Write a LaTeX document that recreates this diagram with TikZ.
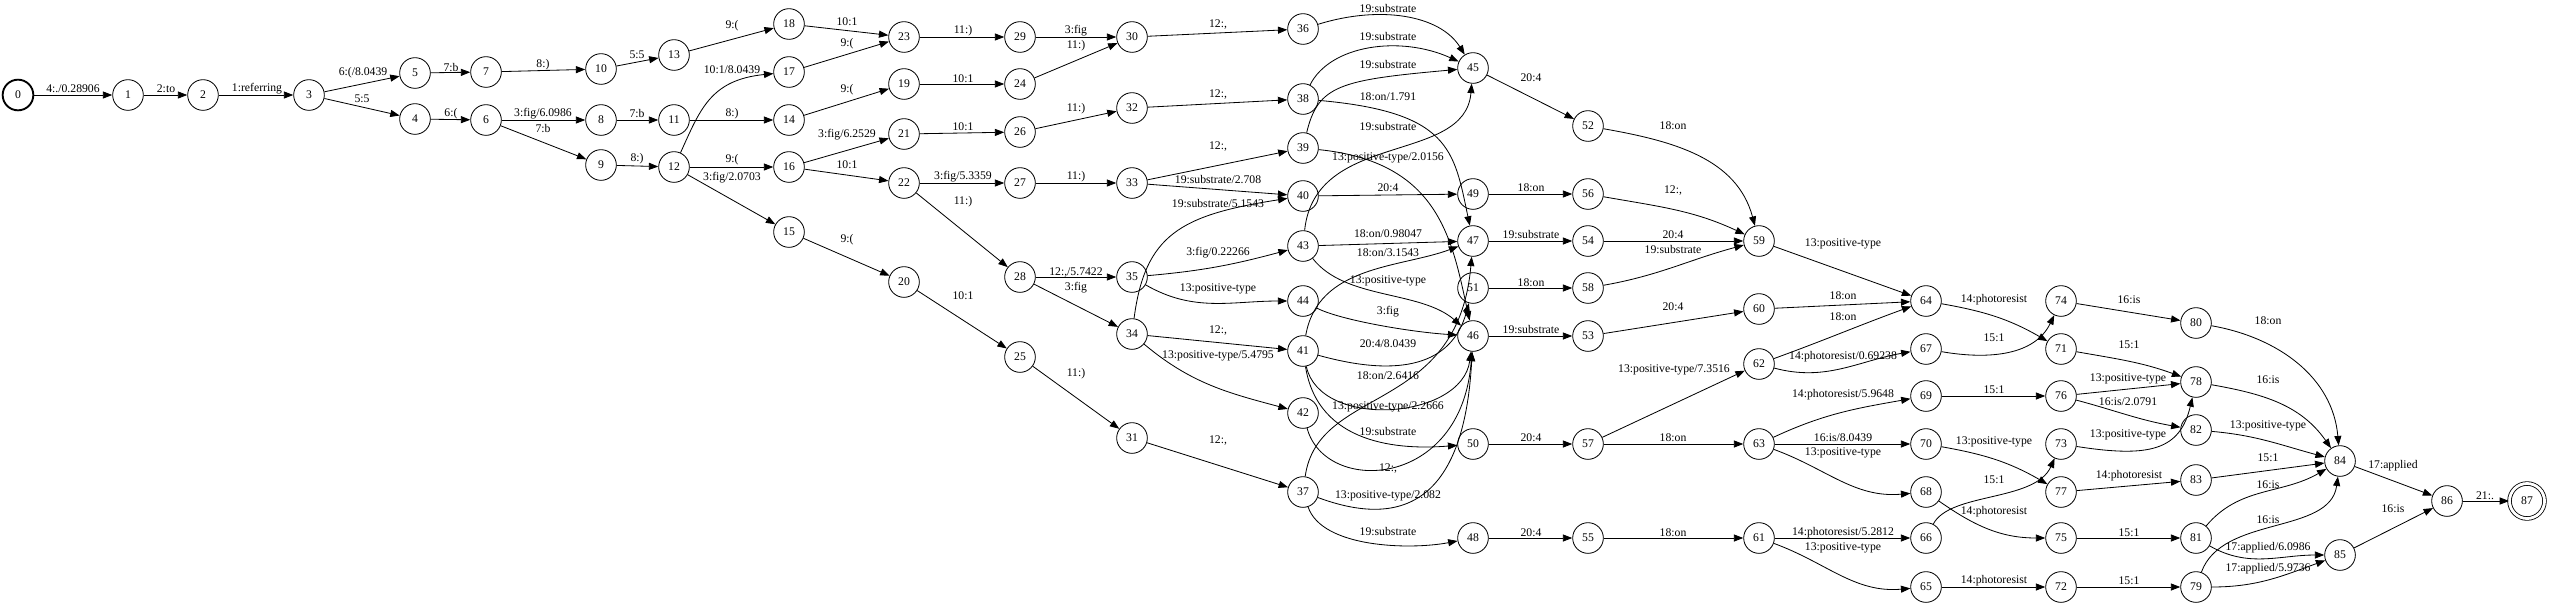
\documentclass[tikz,border=0pt]{standalone}
\usepackage{fontspec}
\setmainfont{Liberation Serif}
\usetikzlibrary{arrows.meta}
\tikzset{
  st/.style={draw,circle,minimum size=0.92cm,inner sep=0pt,line width=0.7pt,font=\normalsize},
  stinit/.style={st,line width=1.6pt},
  stfinal/.style={st,double,double distance=2.4pt,minimum size=1.05cm},
  tr/.style={-{Triangle[length=8pt,width=6pt]},line width=0.7pt},
  lbl/.style={font=\normalsize,inner sep=0pt},
}
\begin{document}
\begin{tikzpicture}[x=0.03cm,y=-0.03cm]
  \useasboundingbox (0,0) rectangle (2550,606);
  \node[stinit] (s0) at (18,95) {0};
  \node[st] (s1) at (128,95) {1};
  \node[st] (s2) at (203,95) {2};
  \node[st] (s3) at (309,95) {3};
  \node[st] (s5) at (415,73) {5};
  \node[st] (s4) at (415,119) {4};
  \node[st] (s7) at (486,72) {7};
  \node[st] (s6) at (486,120) {6};
  \node[st] (s10) at (601,69) {10};
  \node[st] (s8) at (601,120) {8};
  \node[st] (s9) at (601,165) {9};
  \node[st] (s13) at (674,55) {13};
  \node[st] (s11) at (674,120) {11};
  \node[st] (s12) at (674,167) {12};
  \node[st] (s18) at (789,24) {18};
  \node[st] (s17) at (789,72) {17};
  \node[st] (s14) at (789,120) {14};
  \node[st] (s16) at (789,167) {16};
  \node[st] (s15) at (789,232) {15};
  \node[st] (s23) at (904,37) {23};
  \node[st] (s19) at (904,84) {19};
  \node[st] (s21) at (904,134) {21};
  \node[st] (s22) at (904,183) {22};
  \node[st] (s20) at (904,282) {20};
  \node[st] (s29) at (1020,37) {29};
  \node[st] (s24) at (1020,84) {24};
  \node[st] (s26) at (1020,132) {26};
  \node[st] (s27) at (1020,183) {27};
  \node[st] (s28) at (1020,277) {28};
  \node[st] (s25) at (1020,357) {25};
  \node[st] (s30) at (1132,37) {30};
  \node[st] (s32) at (1132,108) {32};
  \node[st] (s33) at (1132,183) {33};
  \node[st] (s35) at (1132,277) {35};
  \node[st] (s34) at (1132,334) {34};
  \node[st] (s31) at (1132,438) {31};
  \node[st] (s36) at (1303,29) {36};
  \node[st] (s38) at (1303,99) {38};
  \node[st] (s39) at (1303,148) {39};
  \node[st] (s40) at (1303,196) {40};
  \node[st] (s43) at (1303,246) {43};
  \node[st] (s44) at (1303,301) {44};
  \node[st] (s41) at (1303,351) {41};
  \node[st] (s42) at (1303,413) {42};
  \node[st] (s37) at (1303,492) {37};
  \node[st] (s45) at (1473,68) {45};
  \node[st] (s49) at (1473,194) {49};
  \node[st] (s47) at (1473,241) {47};
  \node[st] (s51) at (1473,288) {51};
  \node[st] (s46) at (1473,336) {46};
  \node[st] (s50) at (1473,444) {50};
  \node[st] (s48) at (1473,538) {48};
  \node[st] (s52) at (1588,126) {52};
  \node[st] (s56) at (1588,194) {56};
  \node[st] (s54) at (1588,241) {54};
  \node[st] (s58) at (1588,288) {58};
  \node[st] (s53) at (1588,336) {53};
  \node[st] (s57) at (1588,444) {57};
  \node[st] (s55) at (1588,538) {55};
  \node[st] (s59) at (1759,241) {59};
  \node[st] (s60) at (1759,309) {60};
  \node[st] (s62) at (1759,364) {62};
  \node[st] (s63) at (1759,444) {63};
  \node[st] (s61) at (1759,538) {61};
  \node[st] (s64) at (1926,301) {64};
  \node[st] (s67) at (1926,349) {67};
  \node[st] (s69) at (1926,396) {69};
  \node[st] (s70) at (1926,444) {70};
  \node[st] (s68) at (1926,492) {68};
  \node[st] (s66) at (1926,538) {66};
  \node[st] (s65) at (1926,587) {65};
  \node[st] (s74) at (2061,301) {74};
  \node[st] (s71) at (2061,349) {71};
  \node[st] (s76) at (2061,396) {76};
  \node[st] (s73) at (2061,444) {73};
  \node[st] (s77) at (2061,492) {77};
  \node[st] (s75) at (2061,538) {75};
  \node[st] (s72) at (2061,587) {72};
  \node[st] (s80) at (2196,323) {80};
  \node[st] (s78) at (2196,382) {78};
  \node[st] (s82) at (2196,430) {82};
  \node[st] (s83) at (2196,480) {83};
  \node[st] (s81) at (2196,538) {81};
  \node[st] (s79) at (2196,587) {79};
  \node[st] (s84) at (2340,461) {84};
  \node[st] (s85) at (2340,555) {85};
  \node[st] (s86) at (2447,501) {86};
  \node[stfinal] (s87) at (2527,501) {87};
  \draw[tr] (s0) -- (s1) node[lbl] (l0-1) at (73,89) {4:./0.28906};
  \draw[tr] (s1) -- (s2) node[lbl] (l1-2) at (166,89) {2:to};
  \draw[tr] (s2) -- (s3) node[lbl] (l2-3) at (257,89) {1:referring};
  \draw[tr] (s3) -- (s5) node[lbl] (l3-5) at (363,73) {6:(/8.0439};
  \draw[tr] (s3) -- (s4) node[lbl] (l3-4) at (362,99) {5:5};
  \draw[tr] (s5) -- (s7) node[lbl] (l5-7) at (451,68) {7:b};
  \draw[tr] (s4) -- (s6) node[lbl] (l4-6) at (451,114) {6:(};
  \draw[tr] (s7) -- (s10) node[lbl] (l7-10) at (543,65) {8:)};
  \draw[tr] (s10) -- (s13) node[lbl] (l10-13) at (637,55) {5:5};
  \draw[tr] (s13) -- (s18) node[lbl] (l13-18) at (732,26) {9:(};
  \draw[tr] (s6) -- (s8) node[lbl] (l6-8) at (543,114) {3:fig/6.0986};
  \draw[tr] (s6) -- (s9) node[lbl] (l6-9) at (543,129) {7:b};
  \draw[tr] (s8) -- (s11) node[lbl] (l8-11) at (637,114) {7:b};
  \draw[tr] (s11) -- (s14) node[lbl] (l11-14) at (732,114) {8:)};
  \draw[tr] (s9) -- (s12) node[lbl] (l9-12) at (637,159) {8:)};
  \draw[tr] (s12) .. controls (700,110) and (710,80) .. (s17) node[lbl] (l12-17) at (732,70) {10:1/8.0439};
  \draw[tr] (s12) -- (s16) node[lbl] (l12-16) at (732,160) {9:(};
  \draw[tr] (s12) -- (s15) node[lbl] (l12-15) at (732,178) {3:fig/2.0703};
  \draw[tr] (s18) -- (s23) node[lbl] (l18-23) at (847,22) {10:1};
  \draw[tr] (s17) -- (s23) node[lbl] (l17-23) at (847,44) {9:(};
  \draw[tr] (s14) -- (s19) node[lbl] (l14-19) at (847,90) {9:(};
  \draw[tr] (s16) -- (s21) node[lbl] (l16-21) at (847,135) {3:fig/6.2529};
  \draw[tr] (s16) -- (s22) node[lbl] (l16-22) at (847,165) {10:1};
  \draw[tr] (s15) -- (s20) node[lbl] (l15-20) at (847,240) {9:(};
  \draw[tr] (s23) -- (s29) node[lbl] (l23-29) at (963,31) {11:)};
  \draw[tr] (s19) -- (s24) node[lbl] (l19-24) at (963,79) {10:1};
  \draw[tr] (s21) -- (s26) node[lbl] (l21-26) at (963,127) {10:1};
  \draw[tr] (s22) -- (s27) node[lbl] (l22-27) at (963,177) {3:fig/5.3359};
  \draw[tr] (s22) -- (s28) node[lbl] (l22-28) at (963,202) {11:)};
  \draw[tr] (s20) -- (s25) node[lbl] (l20-25) at (963,296) {10:1};
  \draw[tr] (s29) -- (s30) node[lbl] (l29-30) at (1076,31) {3:fig};
  \draw[tr] (s24) -- (s30) node[lbl] (l24-30) at (1076,46) {11:)};
  \draw[tr] (s26) -- (s32) node[lbl] (l26-32) at (1076,109) {11:)};
  \draw[tr] (s27) -- (s33) node[lbl] (l27-33) at (1076,177) {11:)};
  \draw[tr] (s28) -- (s35) node[lbl] (l28-35) at (1076,273) {12:,/5.7422};
  \draw[tr] (s28) -- (s34) node[lbl] (l28-34) at (1076,288) {3:fig};
  \draw[tr] (s25) -- (s31) node[lbl] (l25-31) at (1076,374) {11:)};
  \draw[tr] (s30) -- (s36) node[lbl] (l30-36) at (1218,25) {12:,};
  \draw[tr] (s32) -- (s38) node[lbl] (l32-38) at (1218,95) {12:,};
  \draw[tr] (s33) -- (s39) node[lbl] (l33-39) at (1218,147) {12:,};
  \draw[tr] (s33) -- (s40) node[lbl] (l33-40) at (1218,180) {19:substrate/2.708};
  \draw[tr] (s34) .. controls (1145,235) and (1180,215) .. (s40) node[lbl] (l34-40) at (1218,204) {19:substrate/5.1543};
  \draw[tr] (s35) to[out=5,in=195] (s43) node[lbl] (l35-43) at (1218,253) {3:fig/0.22266};
  \draw[tr] (s35) to[out=-30,in=180] (s44) node[lbl] (l35-44) at (1218,289) {13:positive-type};
  \draw[tr] (s34) -- (s41) node[lbl] (l34-41) at (1218,331) {12:,};
  \draw[tr] (s34) to[out=-40,in=165] (s42) node[lbl] (l34-42) at (1218,356) {13:positive-type/5.4795};
  \draw[tr] (s31) -- (s37) node[lbl] (l31-37) at (1218,441) {12:,};
  \draw[tr] (s36) .. controls (1380,5) and (1440,15) .. (s45) node[lbl] (l36-45) at (1388,9) {19:substrate};
  \draw[tr] (s38) .. controls (1330,45) and (1400,35) .. (s45) node[lbl] (l38-45) at (1388,37) {19:substrate};
  \draw[tr] (s39) .. controls (1318,85) and (1340,80) .. (s45) node[lbl] (l39-45) at (1388,65) {19:substrate};
  \draw[tr] (s38) .. controls (1450,112) and (1454,150) .. (s47) node[lbl] (l38-47) at (1388,97) {18:on/1.791};
  \draw[tr] (s43) .. controls (1315,130) and (1465,165) .. (s45) node[lbl] (l43-45) at (1388,127) {19:substrate};
  \draw[tr] (s39) .. controls (1440,162) and (1452,240) .. (s46) node[lbl] (l39-46) at (1388,158) {13:positive-type/2.0156};
  \draw[tr] (s40) -- (s49) node[lbl] (l40-49) at (1388,188) {20:4};
  \draw[tr] (s43) -- (s47) node[lbl] (l43-47) at (1388,234) {18:on/0.98047};
  \draw[tr] (s41) .. controls (1318,265) and (1400,268) .. (s47) node[lbl] (l41-47) at (1388,253) {18:on/3.1543};
  \draw[tr] (s43) .. controls (1345,300) and (1420,290) .. (s46) node[lbl] (l43-46) at (1388,281) {13:positive-type};
  \draw[tr] (s44) .. controls (1340,320) and (1410,332) .. (s46) node[lbl] (l44-46) at (1388,312) {3:fig};
  \draw[tr] (s41) .. controls (1400,378) and (1452,365) .. (s51) node[lbl] (l41-51) at (1388,344) {20:4/8.0439};
  \draw[tr] (s37) .. controls (1318,385) and (1458,415) .. (s47) node[lbl] (l37-47) at (1388,376) {18:on/2.6416};
  \draw[tr] (s41) .. controls (1320,430) and (1462,420) .. (s46) node[lbl] (l41-46) at (1388,407) {13:positive-type/2.2666};
  \draw[tr] (s41) .. controls (1318,445) and (1400,450) .. (s50) node[lbl] (l41-50) at (1388,432) {19:substrate};
  \draw[tr] (s42) .. controls (1325,495) and (1462,490) .. (s46) node[lbl] (l42-46) at (1388,469) {12:,};
  \draw[tr] (s37) .. controls (1400,528) and (1464,505) .. (s46) node[lbl] (l37-46) at (1388,496) {13:positive-type/2.082};
  \draw[tr] (s37) .. controls (1322,548) and (1410,550) .. (s48) node[lbl] (l37-48) at (1388,532) {19:substrate};
  \draw[tr] (s45) -- (s52) node[lbl] (l45-52) at (1531,78) {20:4};
  \draw[tr] (s49) -- (s56) node[lbl] (l49-56) at (1531,188) {18:on};
  \draw[tr] (s47) -- (s54) node[lbl] (l47-54) at (1531,235) {19:substrate};
  \draw[tr] (s51) -- (s58) node[lbl] (l51-58) at (1531,283) {18:on};
  \draw[tr] (s46) -- (s53) node[lbl] (l46-53) at (1531,330) {19:substrate};
  \draw[tr] (s50) -- (s57) node[lbl] (l50-57) at (1531,438) {20:4};
  \draw[tr] (s48) -- (s55) node[lbl] (l48-55) at (1531,533) {20:4};
  \draw[tr] (s52) to[out=-10,in=105] (s59) node[lbl] (l52-59) at (1673,126) {18:on};
  \draw[tr] (s56) to[out=-10,in=155] (s59) node[lbl] (l56-59) at (1673,191) {12:,};
  \draw[tr] (s54) -- (s59) node[lbl] (l54-59) at (1673,235) {20:4};
  \draw[tr] (s58) to[out=10,in=195] (s59) node[lbl] (l58-59) at (1673,250) {19:substrate};
  \draw[tr] (s53) -- (s60) node[lbl] (l53-60) at (1673,307) {20:4};
  \draw[tr] (s57) -- (s62) node[lbl] (l57-62) at (1674,370) {13:positive-type/7.3516};
  \draw[tr] (s57) -- (s63) node[lbl] (l57-63) at (1673,438) {18:on};
  \draw[tr] (s55) -- (s61) node[lbl] (l55-61) at (1673,533) {18:on};
  \draw[tr] (s59) -- (s64) node[lbl] (l59-64) at (1843,244) {13:positive-type};
  \draw[tr] (s60) -- (s64) node[lbl] (l60-64) at (1843,296) {18:on};
  \draw[tr] (s62) to[out=20,in=200] (s64) node[lbl] (l62-64) at (1843,317) {18:on};
  \draw[tr] (s62) to[out=-15,in=190] (s67) node[lbl] (l62-67) at (1843,357) {14:photoresist/0.69238};
  \draw[tr] (s63) to[out=25,in=190] (s69) node[lbl] (l63-69) at (1843,395) {14:photoresist/5.9648};
  \draw[tr] (s63) -- (s70) node[lbl] (l63-70) at (1843,438) {16:is/8.0439};
  \draw[tr] (s63) to[out=-20,in=185] (s68) node[lbl] (l63-68) at (1843,453) {13:positive-type};
  \draw[tr] (s61) -- (s66) node[lbl] (l61-66) at (1843,533) {14:photoresist/5.2812};
  \draw[tr] (s61) to[out=-20,in=185] (s65) node[lbl] (l61-65) at (1843,548) {13:positive-type};
  \draw[tr] (s64) to[out=-10,in=150] (s71) node[lbl] (l64-71) at (1994,300) {14:photoresist};
  \draw[tr] (s67) .. controls (1990,360) and (2035,355) .. (s74) node[lbl] (l67-74) at (1994,338) {15:1};
  \draw[tr] (s69) -- (s76) node[lbl] (l69-76) at (1994,390) {15:1};
  \draw[tr] (s70) to[out=-10,in=150] (s77) node[lbl] (l70-77) at (1994,442) {13:positive-type};
  \draw[tr] (s66) .. controls (1950,492) and (2035,502) .. (s73) node[lbl] (l66-73) at (1994,480) {15:1};
  \draw[tr] (s68) to[out=-35,in=180] (s75) node[lbl] (l68-75) at (1994,512) {14:photoresist};
  \draw[tr] (s65) -- (s72) node[lbl] (l65-72) at (1994,581) {14:photoresist};
  \draw[tr] (s74) -- (s80) node[lbl] (l74-80) at (2129,300) {16:is};
  \draw[tr] (s71) to[out=-10,in=160] (s78) node[lbl] (l71-78) at (2129,345) {15:1};
  \draw[tr] (s76) -- (s78) node[lbl] (l76-78) at (2128,379) {13:positive-type};
  \draw[tr] (s76) to[out=-15,in=170] (s82) node[lbl] (l76-82) at (2128,402) {16:is/2.0791};
  \draw[tr] (s73) .. controls (2150,458) and (2180,450) .. (s78) node[lbl] (l73-78) at (2128,435) {13:positive-type};
  \draw[tr] (s77) -- (s83) node[lbl] (l77-83) at (2129,476) {14:photoresist};
  \draw[tr] (s75) -- (s81) node[lbl] (l75-81) at (2129,533) {15:1};
  \draw[tr] (s72) -- (s79) node[lbl] (l72-79) at (2129,581) {15:1};
  \draw[tr] (s80) to[out=-10,in=95] (s84) node[lbl] (l80-84) at (2268,321) {18:on};
  \draw[tr] (s78) to[out=-10,in=125] (s84) node[lbl] (l78-84) at (2268,380) {16:is};
  \draw[tr] (s82) to[out=-5,in=165] (s84) node[lbl] (l82-84) at (2268,426) {13:positive-type};
  \draw[tr] (s83) -- (s84) node[lbl] (l83-84) at (2268,458) {15:1};
  \draw[tr] (s81) to[out=50,in=210] (s84) node[lbl] (l81-84) at (2268,485) {16:is};
  \draw[tr] (s79) .. controls (2222,515) and (2330,535) .. (s84) node[lbl] (l79-84) at (2268,520) {16:is};
  \draw[tr] (s81) to[out=-30,in=180] (s85) node[lbl] (l81-85) at (2268,548) {17:applied/6.0986};
  \draw[tr] (s79) to[out=0,in=200] (s85) node[lbl] (l79-85) at (2268,569) {17:applied/5.9736};
  \draw[tr] (s84) -- (s86) node[lbl] (l84-86) at (2393,466) {17:applied};
  \draw[tr] (s85) -- (s86) node[lbl] (l85-86) at (2393,509) {16:is};
  \draw[tr] (s86) -- (s87) node[lbl] (l86-87) at (2485,496) {21:.};
\end{tikzpicture}
\end{document}
